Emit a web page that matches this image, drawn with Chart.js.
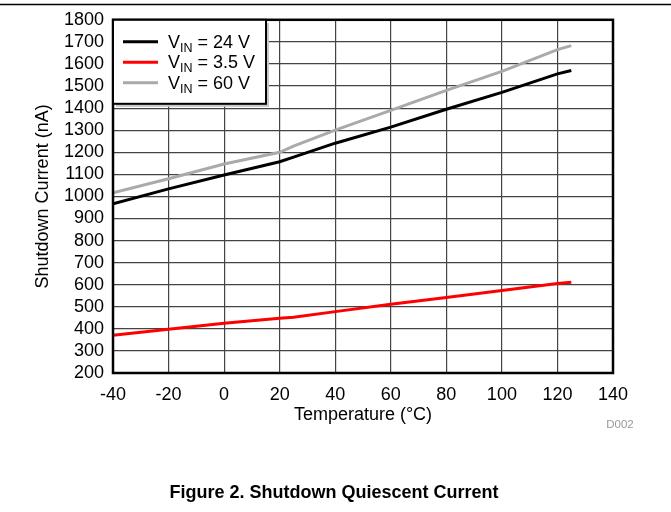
<!DOCTYPE html>
<html lang="en">
<head>
<meta charset="UTF-8">
<title>Shutdown Quiescent Current</title>
<script src="https://cdn.jsdelivr.net/npm/chart.js"></script>
<style>
body{margin:0;background:#fff;font-family:Arial,"Liberation Sans",Helvetica,sans-serif}
#wrap{position:relative;width:671px;height:512px}
</style>
</head>
<body>
<div id="wrap"><canvas id="chart" width="671" height="512"></canvas></div>
<script>
/* --- Datos --- */
const temps=[-40,-20,0,20,25,40,60,80,100,120,125];
const vin24=[967,1034,1097,1157,1178,1241,1314,1395,1471,1555,1570];
const vin35=[371,398,425,448,453,478,511,542,574,605,611];
const vin60=[1016,1080,1147,1200,1228,1300,1390,1480,1566,1665,1683];
const seriesNames=['24 V','3.5 V','60 V'];
const seriesColors=['#000000','#ff0000','#aaaaaa'];
const xTicks={min:-40,max:140,step:20};
const yTicks={min:200,max:1800,step:100};

const pts=arr=>temps.map((t,i)=>({x:t,y:arr[i]}));
const FONT='Arial, "Liberation Sans", sans-serif';

/* --- Marco, leyenda y textos --- */
const decor={
  id:'decor',
  afterDatasetsDraw(chart){
    const {ctx,chartArea:a}=chart;
    ctx.save();
    // marco del área
    ctx.strokeStyle='#000';ctx.lineWidth=2.5;
    ctx.strokeRect(a.left,a.top,a.right-a.left,a.bottom-a.top);
    // leyenda
    const bx=a.left,by=a.top,bw=153,bh=84;
    ctx.fillStyle='#c8c8c8';ctx.fillRect(bx+3,by+3,bw,bh);
    ctx.fillStyle='#fff';ctx.fillRect(bx,by,bw,bh);
    ctx.lineWidth=2;ctx.strokeRect(bx,by,bw,bh);
    seriesNames.forEach((n,i)=>{
      const cy=by+22+i*20.5;
      ctx.strokeStyle=seriesColors[i];ctx.lineWidth=3;
      ctx.beginPath();ctx.moveTo(bx+10,cy);ctx.lineTo(bx+45,cy);ctx.stroke();
      ctx.fillStyle='#000';ctx.textBaseline='alphabetic';ctx.textAlign='left';
      let x=bx+55;const base=cy+6;
      ctx.font='18px '+FONT;ctx.fillText('V',x,base);x+=ctx.measureText('V').width;
      ctx.font='12.5px '+FONT;ctx.fillText('IN',x,base+4);x+=ctx.measureText('IN').width;
      ctx.font='18px '+FONT;ctx.fillText(' = '+n,x,base);
    });
    ctx.restore();
  },
  afterDraw(chart){
    const {ctx}=chart;
    ctx.save();
    ctx.strokeStyle='#000';ctx.lineWidth=1.5;
    ctx.beginPath();ctx.moveTo(0,4.5);ctx.lineTo(671,4.5);ctx.stroke();
    ctx.textAlign='center';ctx.textBaseline='middle';
    ctx.fillStyle='#999';ctx.font='11.5px '+FONT;ctx.fillText('D002',620,425);
    ctx.fillStyle='#000';ctx.font='bold 18px '+FONT;
    ctx.fillText('Figure 2. Shutdown Quiescent Current',334,493);
    ctx.restore();
  }
};

new Chart(document.getElementById('chart'),{
  type:'scatter',
  data:{datasets:[
    {label:'VIN = 24 V',data:pts(vin24),borderColor:seriesColors[0]},
    {label:'VIN = 3.5 V',data:pts(vin35),borderColor:seriesColors[1]},
    {label:'VIN = 60 V',data:pts(vin60),borderColor:seriesColors[2]}
  ].map(d=>({...d,showLine:true,pointRadius:0,borderWidth:3,tension:0,fill:false}))},
  options:{
    responsive:false,animation:false,
    layout:{padding:{left:0,top:18,right:58,bottom:79}},
    plugins:{legend:{display:false},tooltip:{enabled:false}},
    scales:{
      x:{type:'linear',min:xTicks.min,max:xTicks.max,
         afterFit:s=>{s.height=60;},
         grid:{color:'#444',lineWidth:1.2,drawTicks:false},border:{display:false},
         ticks:{stepSize:xTicks.step,padding:11,color:'#000',font:{family:FONT,size:18},
                autoSkip:false,maxRotation:0,callback:v=>String(v)},
         title:{display:true,text:'Temperature (°C)',color:'#000',font:{family:FONT,size:18},padding:{top:0,bottom:7}}},
      y:{min:yTicks.min,max:yTicks.max,
         afterFit:s=>{s.width=113;},
         grid:{color:'#444',lineWidth:1.2,drawTicks:false},border:{display:false},
         ticks:{stepSize:yTicks.step,padding:9,color:'#000',font:{family:FONT,size:18},
                autoSkip:false,callback:v=>String(v)},
         title:{display:true,text:'Shutdown Current (nA)',color:'#000',font:{family:FONT,size:18},padding:{top:32,bottom:0}}}
    }
  },
  plugins:[decor]
});
</script>
</body>
</html>
